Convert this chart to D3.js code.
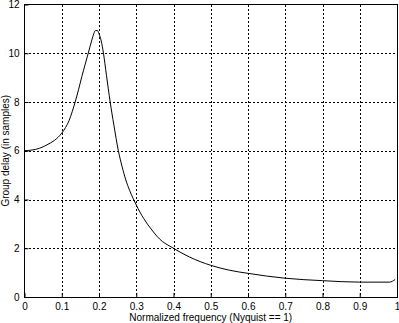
<!DOCTYPE html>
<html>
<head>
<meta charset="utf-8">
<script src="https://d3js.org/d3.v7.min.js"></script>
<style>
  body { margin: 0; background: #fff; }
  text { font-family: "Liberation Sans", Arial, sans-serif; font-size: 10px; fill: #000; }
</style>
</head>
<body>
<svg id="chart" width="399" height="323"></svg>
<script>
// normalized frequency vs group delay
const freq = [0, 0.02, 0.04, 0.06, 0.08, 0.09, 0.1, 0.11, 0.12, 0.128, 0.136, 0.145, 0.154, 0.163, 0.172, 0.18, 0.186, 0.19, 0.196, 0.2, 0.206, 0.212, 0.22, 0.23, 0.24, 0.252, 0.262, 0.272, 0.282, 0.292, 0.3, 0.31, 0.32, 0.33, 0.342, 0.355, 0.37, 0.385, 0.4, 0.42, 0.443, 0.5, 0.55, 0.6, 0.7, 0.8, 0.9, 0.98, 0.995];
const delay = [6.0, 6.03, 6.1, 6.24, 6.42, 6.55, 6.72, 6.95, 7.25, 7.6, 8.0, 8.5, 9.05, 9.55, 10.05, 10.5, 10.8, 10.93, 10.93, 10.8, 10.5, 10.0, 9.1, 8.0, 7.05, 6.0, 5.35, 4.8, 4.38, 4.03, 3.78, 3.48, 3.22, 2.99, 2.75, 2.5, 2.28, 2.13, 2.0, 1.82, 1.64, 1.3, 1.1, 0.97, 0.77, 0.67, 0.61, 0.61, 0.72];
const xTicks = [0, 0.1, 0.2, 0.3, 0.4, 0.5, 0.6, 0.7, 0.8, 0.9, 1];
const yTicks = [0, 2, 4, 6, 8, 10, 12];

const margin = { left: 24.5, right: 2, top: 4.5, bottom: 26 };
const svg = d3.select("#chart");
const W = +svg.attr("width"), H = +svg.attr("height");

const x = d3.scaleLinear().domain([0, 1]).range([margin.left, W - margin.right]);
const y = d3.scaleLinear().domain([0, 12]).range([H - margin.bottom, margin.top]);

// grid
const grid = svg.append("g")
    .attr("stroke", "#000")
    .attr("stroke-width", 1)
    .attr("stroke-dasharray", "2,2")
    .attr("shape-rendering", "crispEdges");
grid.selectAll(".vx").data(xTicks.slice(1, -1)).join("line")
    .attr("x1", d => Math.round(x(d)) + 0.5).attr("x2", d => Math.round(x(d)) + 0.5)
    .attr("y1", y(12)).attr("y2", y(0));
grid.selectAll(".hy").data(yTicks.slice(1, -1)).join("line")
    .attr("y1", d => Math.round(y(d)) + 0.5).attr("y2", d => Math.round(y(d)) + 0.5)
    .attr("x1", x(0)).attr("x2", x(1));

// axes
svg.append("g")
    .attr("transform", `translate(0,${y(0)})`)
    .call(d3.axisBottom(x).tickValues(xTicks).tickFormat(d3.format("")).tickSizeInner(-4).tickSizeOuter(0).tickPadding(6))
    .call(g => g.select(".domain").remove());

svg.append("g")
    .attr("transform", `translate(${x(0)},0)`)
    .call(d3.axisLeft(y).tickValues(yTicks).tickSizeInner(-4).tickSizeOuter(0).tickPadding(5))
    .call(g => g.select(".domain").remove());

svg.selectAll(".tick line").attr("stroke", "#000");
svg.selectAll("g[font-size]").attr("font-size", null).attr("font-family", null);

// frame
svg.append("rect")
    .attr("x", x(0)).attr("y", y(12))
    .attr("width", x(1) - x(0)).attr("height", y(0) - y(12))
    .attr("fill", "none").attr("stroke", "#000").attr("stroke-width", 1)
    .attr("shape-rendering", "crispEdges");

// curve
const pts = freq.map((f, i) => [f, delay[i]]);
svg.append("path")
    .datum(pts)
    .attr("fill", "none")
    .attr("stroke", "#000")
    .attr("stroke-width", 1)
    .attr("d", d3.line().x(d => x(d[0])).y(d => y(d[1])).curve(d3.curveMonotoneX));

// labels
svg.append("text")
    .attr("x", (x(0) + x(1)) / 2).attr("y", H - 2)
    .attr("text-anchor", "middle")
    .text("Normalized frequency (Nyquist == 1)");

svg.append("text")
    .attr("transform", `translate(9,${(y(0) + y(12)) / 2}) rotate(-90)`)
    .attr("text-anchor", "middle")
    .text("Group delay (in samples)");
</script>
</body>
</html>
